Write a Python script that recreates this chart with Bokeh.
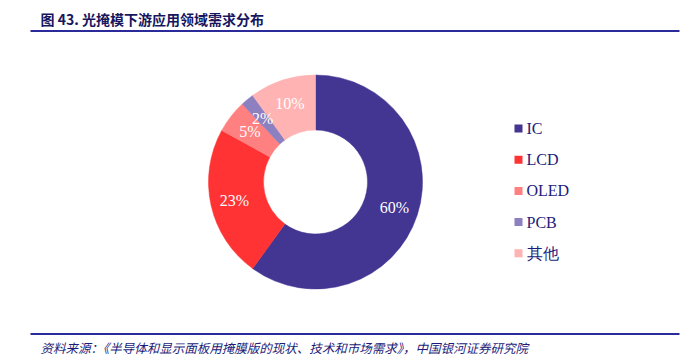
import math
from bokeh.plotting import figure
from bokeh.models import Range1d, ColumnDataSource
from bokeh.core.properties import value
from bokeh.embed import file_html
from bokeh.resources import INLINE

# ---- data ----
categories = ["IC", "LCD", "OLED", "PCB", "其他"]
shares = [60, 23, 5, 2, 10]
colors = ["#433592", "#FF3333", "#FF8080", "#8C80C0", "#FFB3B3"]
pct_labels = ["60%", "23%", "5%", "2%", "10%"]
title_text = "图 43. 光掩模下游应用领域需求分布"
source_text = "资料来源：《半导体和显示面板用掩膜版的现状、技术和市场需求》，中国银河证券研究院"

W, H = 697, 356
p = figure(width=W, height=H, output_backend="svg", toolbar_location=None,
           x_range=Range1d(0, W), y_range=Range1d(0, H), min_border=0)
p.axis.visible = False
p.grid.visible = False
p.outline_line_color = None
p.background_fill_color = "white"
p.border_fill_color = "white"

# picture px -> data
def X(px):
    return px
def Y(py):
    return H - py

cx, cy = X(315), Y(181.5)
r_out, r_in = 107, 52

total = sum(shares)
starts, ends, lx, ly = [], [], [], []
cum = 0.0
for s in shares:
    a0 = math.pi / 2 - 2 * math.pi * cum / total
    a1 = math.pi / 2 - 2 * math.pi * (cum + s) / total
    starts.append(a0)
    ends.append(a1)
    mid = (a0 + a1) / 2
    rl = 83
    lx.append(cx + rl * math.cos(mid))
    ly.append(cy + rl * math.sin(mid))
    cum += s

src = ColumnDataSource(dict(start=starts, end=ends, color=colors,
                            lx=lx, ly=ly, lab=pct_labels))
p.annular_wedge(x=cx, y=cy, inner_radius=r_in, outer_radius=r_out,
                start_angle="start", end_angle="end", direction="clock",
                fill_color="color", line_color="color", line_width=0.5, source=src)
p.text(x="lx", y="ly", text="lab", source=src, text_color="white",
       text_font=value("Liberation Serif"), text_font_size="16px",
       text_align="center", text_baseline="middle")

# legend
leg_y = [Y(128 + 31.2 * i) for i in range(len(categories))]
leg_src = ColumnDataSource(dict(x=[X(518)] * len(categories), tx=[X(526)] * len(categories),
                                y=leg_y, color=colors, lab=categories))
p.rect(x="x", y="y", width=8, height=8, fill_color="color", line_color=None, source=leg_src)
p.text(x="tx", y="y", text="lab", source=leg_src, text_color="#1C1C7A",
       text_font=value("Liberation Serif"), text_font_size="16px",
       text_align="left", text_baseline="middle")

# title and rules
p.text(x=[X(40)], y=[Y(18)], text=[title_text], text_color="#16165E",
       text_font=value("Noto Sans CJK SC"), text_font_size="14px", text_font_style="bold",
       text_align="left", text_baseline="middle")
p.segment(x0=[X(30)], y0=[Y(30.5)], x1=[X(679)], y1=[Y(30.5)], line_color="#2A2A9A", line_width=2)
p.segment(x0=[X(30)], y0=[Y(333.5)], x1=[X(679)], y1=[Y(333.5)], line_color="#2A2A9A", line_width=2)
p.text(x=[X(40)], y=[Y(347)], text=[source_text], text_color="#1C1C7A",
       text_font=value("Noto Sans CJK SC"), text_font_size="12.5px", text_font_style="italic",
       text_align="left", text_baseline="middle")

open("out.html", "w").write(file_html(p, INLINE))
